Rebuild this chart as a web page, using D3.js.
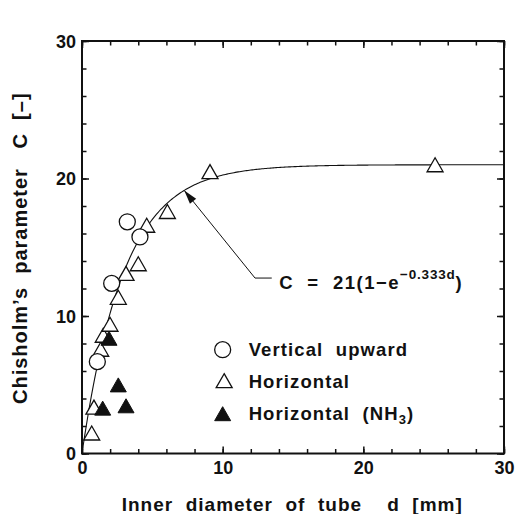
<!DOCTYPE html>
<html>
<head>
<meta charset="utf-8">
<script src="https://cdn.jsdelivr.net/npm/d3@7"></script>
<style>
  body { margin: 0; background: #fff; }
  text { font-family: "Liberation Sans", Arial, Helvetica, sans-serif; font-weight: bold; fill: #111; }
</style>
</head>
<body>
<svg id="chart" width="516" height="514"></svg>
<script>
// Axis ticks
const xMajorTicks = [0, 10, 20, 30];
const yMajorTicks = [0, 10, 20, 30];
const xMinorTicks = d3.range(0, 31, 2);
const yMinorTicks = d3.range(0, 31, 2);

// Measured Chisholm parameter C against inner tube diameter d [mm]
const verticalUpward = [[1.09, 6.68], [2.11, 12.37], [3.22, 16.85], [4.12, 15.75]];
const horizontal = [[0.69, 1.49], [0.85, 3.37], [1.33, 7.58], [1.51, 8.6], [1.99, 9.4],
  [2.58, 11.36], [3.13, 13.1], [4.0, 13.8], [4.6, 16.6], [6.07, 17.6], [9.1, 20.5], [25.1, 21.0]];
const horizontalNH3 = [[1.47, 3.3], [1.92, 8.38], [2.58, 4.99], [3.13, 3.47]];

// Correlation C = 21(1 - exp(-0.333 d))
const fitA = 21, fitK = 0.333;
const fit = d => fitA * (1 - Math.exp(-fitK * d));

const legendLabels = ["Vertical  upward", "Horizontal", "Horizontal  (NH"];

const svg = d3.select("#chart");
const m = { left: 82, right: 504, top: 41, bottom: 453.5 };
const x = d3.scaleLinear().domain([0, 30]).range([m.left, m.right]);
const y = d3.scaleLinear().domain([0, 30]).range([m.bottom, m.top]);
const W = m.right - m.left, H = m.bottom - m.top;

// Inward ticks on all four sides
function ticks(axisFn, values, size, transform, labels) {
  const g = svg.append("g").attr("transform", transform)
    .call(axisFn.tickValues(values).tickSize(-size).tickPadding(0)
      .tickFormat(labels ? d3.format("d") : ""));
  g.select(".domain").remove();
  g.selectAll(".tick line").attr("stroke", "#111").attr("stroke-width", 1.5);
  return g;
}
ticks(d3.axisBottom(x), xMinorTicks, 4.5, `translate(0,${m.bottom})`, false);
ticks(d3.axisTop(x), xMinorTicks, 4.5, `translate(0,${m.top})`, false);
ticks(d3.axisLeft(y), yMinorTicks, 4.5, `translate(${m.left},0)`, false);
ticks(d3.axisRight(y), yMinorTicks, 4.5, `translate(${m.right},0)`, false);
ticks(d3.axisTop(x), xMajorTicks, 7, `translate(0,${m.top})`, false);
ticks(d3.axisRight(y), yMajorTicks, 7, `translate(${m.right},0)`, false);

const xb = ticks(d3.axisBottom(x), xMajorTicks, 7, `translate(0,${m.bottom})`, true);
xb.selectAll(".tick text").attr("y", 8).attr("dy", "0.71em")
  .style("font-size", "18px").attr("font-family", null);
const yl = ticks(d3.axisLeft(y), yMajorTicks, 7, `translate(${m.left},0)`, true);
yl.selectAll(".tick text").attr("x", -6).attr("dy", "0.36em")
  .style("font-size", "18px").attr("font-family", null);

// Frame
svg.append("rect").attr("x", m.left).attr("y", m.top).attr("width", W).attr("height", H)
  .attr("fill", "none").attr("stroke", "#111").attr("stroke-width", 2);

// Fitted curve
const line = d3.line().x(d => x(d)).y(d => y(fit(d)));
svg.append("path").datum(d3.range(0, 30.001, 0.1)).attr("d", line)
  .attr("fill", "none").attr("stroke", "#111").attr("stroke-width", 1.1);

// Markers
const tri = "M0,-7L8,7L-8,7Z";
svg.append("g").selectAll("path.h").data(horizontal).join("path")
  .attr("d", tri).attr("transform", d => `translate(${x(d[0])},${y(d[1])})`)
  .attr("fill", "#fff").attr("stroke", "#111").attr("stroke-width", 1.3);
svg.append("g").selectAll("circle").data(verticalUpward).join("circle")
  .attr("cx", d => x(d[0])).attr("cy", d => y(d[1])).attr("r", 8)
  .attr("fill", "#fff").attr("stroke", "#111").attr("stroke-width", 1.3);
svg.append("g").selectAll("path.n").data(horizontalNH3).join("path")
  .attr("d", tri).attr("transform", d => `translate(${x(d[0])},${y(d[1])})`)
  .attr("fill", "#111").attr("stroke", "#111").attr("stroke-width", 1);

// Annotation arrow pointing to the curve
const tipD = 7.27;
const tip = [x(tipD), y(fit(tipD))];
const elbow = [x(12.3), y(12.76)];
const leadEnd = [x(13.49), y(12.76)];
svg.append("path").attr("d", `M${leadEnd[0]},${leadEnd[1]}L${elbow[0]},${elbow[1]}L${tip[0]},${tip[1]}`)
  .attr("fill", "none").attr("stroke", "#111").attr("stroke-width", 1);
const ang = Math.atan2(elbow[1] - tip[1], elbow[0] - tip[0]);
const aL = 14, aW = 4;
const base = [tip[0] + aL * Math.cos(ang), tip[1] + aL * Math.sin(ang)];
const px = -Math.sin(ang) * aW, py = Math.cos(ang) * aW;
svg.append("path")
  .attr("d", `M${tip[0]},${tip[1]}L${base[0] + px},${base[1] + py}L${base[0] - px},${base[1] - py}Z`)
  .attr("fill", "#111");

const eq = svg.append("text").attr("x", x(14.02)).attr("y", y(11.95))
  .style("font-size", "18.5px").style("letter-spacing", "1.5px").style("white-space", "pre");
eq.append("tspan").text("C  =  21(1\u2212e");
eq.append("tspan").attr("dy", -10).style("font-size", "13.5px").style("letter-spacing", "0.8px").text("\u22120.333d");
eq.append("tspan").attr("dy", 10).text(")");

// Legend
const lx = x(10.0), ly0 = y(7.55), lstep = 32;
svg.append("circle").attr("cx", lx).attr("cy", ly0).attr("r", 8)
  .attr("fill", "#fff").attr("stroke", "#111").attr("stroke-width", 1.3);
svg.append("path").attr("d", tri).attr("transform", `translate(${lx + 1.5},${ly0 + lstep - 1})`)
  .attr("fill", "#fff").attr("stroke", "#111").attr("stroke-width", 1.3);
svg.append("path").attr("d", tri).attr("transform", `translate(${lx},${ly0 + 2 * lstep})`)
  .attr("fill", "#111").attr("stroke", "#111");
legendLabels.forEach((t, i) => {
  const tx = svg.append("text").attr("x", lx + 26).attr("y", ly0 + 6.7 + i * lstep)
    .style("font-size", "18.5px").style("letter-spacing", "1.1px").style("white-space", "pre").text(t);
  if (i === 2) {
    tx.append("tspan").attr("dy", 4).style("font-size", "13px").text("3");
    tx.append("tspan").attr("dy", -4).text(")");
  }
});

// Axis titles
svg.append("text").attr("x", 121.7).attr("y", 511)
  .style("font-size", "19px").style("letter-spacing", "1px").style("white-space", "pre")
  .text("Inner  diameter  of  tube    d  [mm]");
svg.append("text").attr("transform", "translate(27,404) rotate(-90)")
  .style("font-size", "20px").style("letter-spacing", "1px").style("white-space", "pre")
  .text("Chisholm\u2019s  parameter   C  [\u2013]");
</script>
</body>
</html>
